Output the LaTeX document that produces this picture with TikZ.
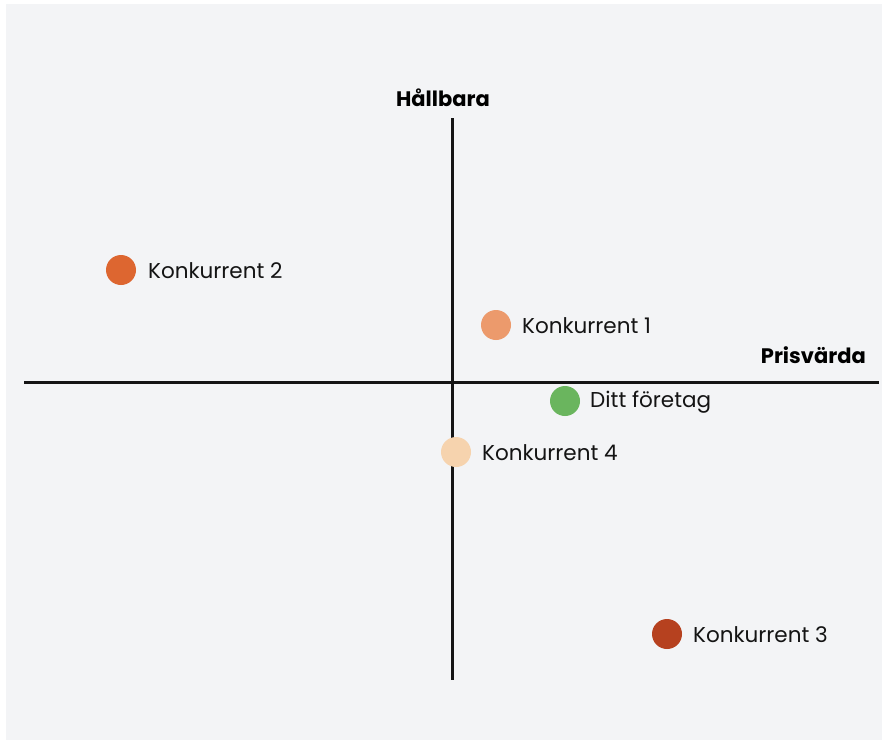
\documentclass[tikz,border=0pt]{standalone}
\usepackage{fontspec}
\setmainfont{Poppins}
\definecolor{bgpanel}{HTML}{F3F4F6}
\definecolor{compA}{HTML}{EC9A6C}
\definecolor{compB}{HTML}{DD6630}
\definecolor{compC}{HTML}{B6411F}
\definecolor{compD}{HTML}{F6D3AE}
\definecolor{ownco}{HTML}{6AB55E}
\begin{document}
\begin{tikzpicture}[x=1pt,y=-1pt,
  axis/.style={line width=3pt,black!92},
  dot/.style={circle,minimum size=30pt,inner sep=0pt},
  lbl/.style={anchor=west,inner sep=0pt,font=\fontsize{21.5}{24}\selectfont,text=black!92},
  axlbl/.style={inner sep=0pt,font=\fontsize{21}{24}\selectfont\bfseries}]
  \useasboundingbox (0,0) rectangle (882,740);
  \fill[white] (0,0) rectangle (882,740);
  \fill[bgpanel] (6,4) rectangle (882,740);
  % axes
  \coordinate (xl) at (24,382);
  \coordinate (xr) at (879,382);
  \coordinate (yt) at (452,118);
  \coordinate (yb) at (452,680);
  \draw[axis] (xl) -- (xr);
  \draw[axis] (yt) -- (yb);
  \node[axlbl] (ylab) at (443,98) {Hållbara};
  \node[axlbl,anchor=east] (xlab) at (866,355) {Prisvärda};
  % positions
  \node[dot,fill=compB] (c2) at (121,270) {};
  \node[lbl] (c2l) at (148,271) {Konkurrent 2};
  \node[dot,fill=compA] (c1) at (496,325) {};
  \node[lbl] (c1l) at (522,326) {Konkurrent 1};
  \node[dot,fill=ownco] (own) at (565,401) {};
  \node[lbl] (ownl) at (590,402) {Ditt företag};
  \node[dot,fill=compD] (c4) at (456,452) {};
  \node[lbl] (c4l) at (482,453) {Konkurrent 4};
  \node[dot,fill=compC] (c3) at (667,634) {};
  \node[lbl] (c3l) at (693,635) {Konkurrent 3};
\end{tikzpicture}
\end{document}
